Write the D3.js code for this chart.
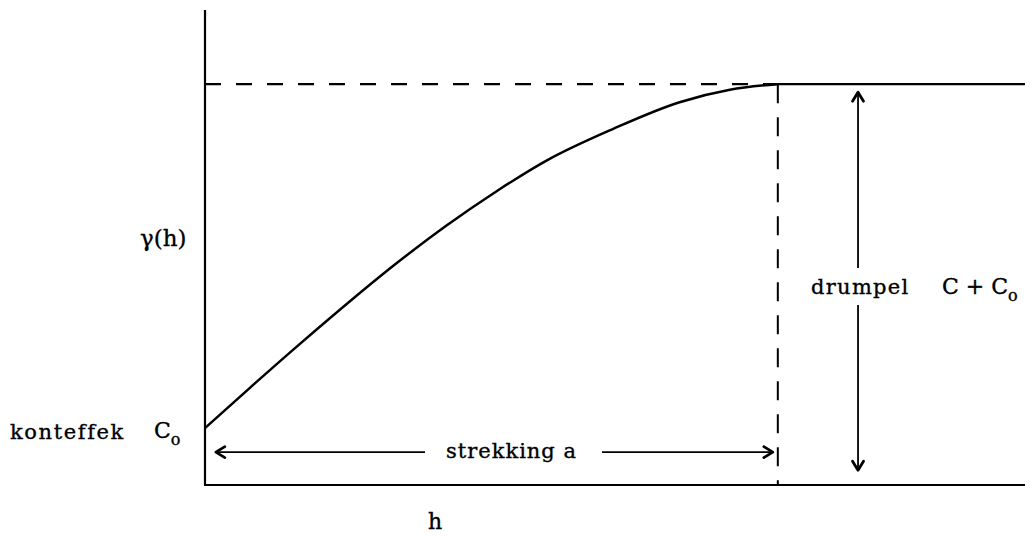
<!DOCTYPE html>
<html>
<head>
<meta charset="utf-8">
<script src="https://cdn.jsdelivr.net/npm/d3@7"></script>
<style>
  html, body { margin: 0; padding: 0; background: #fff; }
  svg { display: block; }
  text { font-family: "DejaVu Serif", "Liberation Serif", serif; fill: #000; stroke: #000; stroke-width: 0.35px; }
</style>
</head>
<body>
<script>
// Semivariogram: lag distance h (in units of the range a) vs. gamma(h) (in units of the sill)
const lagH = [0, 0.079, 0.166, 0.341, 0.423, 0.510, 0.598, 0.713, 0.830, 0.918, 1.0];
const gammaH = [0.142, 0.243, 0.352, 0.560, 0.648, 0.733, 0.810, 0.888, 0.955, 0.986, 1.0];
const rangeA = 1.0;     // strekking a
const sill = 1.0;       // drumpel C + Co
const hMax = 1.434;
const gammaMax = 1.185;

const W = 1033, H = 536;
const svg = d3.select("body").append("svg").attr("width", W).attr("height", H);

const x = d3.scaleLinear().domain([0, hMax]).range([205, 1025]);
const y = d3.scaleLinear().domain([0, gammaMax]).range([485, 10]);

const ink = "#000";

// axes (plain lines, no ticks)
svg.append("line").attr("x1", x(0)).attr("x2", x(0)).attr("y1", y(0)).attr("y2", y(gammaMax))
  .attr("stroke", ink).attr("stroke-width", 2.2);
svg.append("line").attr("x1", x(0) - 1).attr("x2", x(hMax)).attr("y1", y(0)).attr("y2", y(0))
  .attr("stroke", ink).attr("stroke-width", 2.2);

// sill: dashed up to the range, solid beyond
svg.append("line").attr("x1", x(0)).attr("x2", x(rangeA)).attr("y1", y(sill)).attr("y2", y(sill))
  .attr("stroke", ink).attr("stroke-width", 2.2).attr("stroke-dasharray", "16 15");
svg.append("line").attr("x1", x(rangeA)).attr("x2", x(hMax)).attr("y1", y(sill)).attr("y2", y(sill))
  .attr("stroke", ink).attr("stroke-width", 2.2);

// range marker
svg.append("line").attr("x1", x(rangeA) + 1).attr("x2", x(rangeA) + 1).attr("y1", y(sill)).attr("y2", y(0))
  .attr("stroke", ink).attr("stroke-width", 2).attr("stroke-dasharray", "19 14");

// variogram curve
const line = d3.line().x((d, i) => x(lagH[i])).y(d => y(d)).curve(d3.curveMonotoneX);
svg.append("path").attr("d", line(gammaH)).attr("fill", "none")
  .attr("stroke", ink).attr("stroke-width", 2.5);

// arrowheads
function head(px, py, angle) {
  svg.append("path")
    .attr("d", "M9,-5.5 L0,0 L9,5.5")
    .attr("transform", `translate(${px},${py}) rotate(${angle})`)
    .attr("fill", "none").attr("stroke", ink).attr("stroke-width", 2.8)
    .attr("stroke-linejoin", "round").attr("stroke-linecap", "round");
}

// horizontal arrow: strekking a
const arrowG = 0.082;
const hA0 = 0.019, hA1 = 0.993;
const yArr = y(arrowG);
svg.append("line").attr("x1", x(hA0)).attr("x2", 425).attr("y1", yArr).attr("y2", yArr)
  .attr("stroke", ink).attr("stroke-width", 1.8);
svg.append("line").attr("x1", 602).attr("x2", x(hA1)).attr("y1", yArr).attr("y2", yArr)
  .attr("stroke", ink).attr("stroke-width", 1.8);
head(x(hA0), yArr, 0);
head(x(hA1), yArr, 180);
svg.append("text").attr("x", 446).attr("y", yArr + 6).attr("font-size", 21)
  .attr("letter-spacing", "1px").text("strekking a");

// vertical arrow: drumpel
const hV = 1.142, gV0 = 0.037, gV1 = 0.98;
svg.append("line").attr("x1", x(hV)).attr("x2", x(hV)).attr("y1", y(gV1)).attr("y2", 268)
  .attr("stroke", ink).attr("stroke-width", 1.8);
svg.append("line").attr("x1", x(hV)).attr("x2", x(hV)).attr("y1", 305).attr("y2", y(gV0))
  .attr("stroke", ink).attr("stroke-width", 1.8);
head(x(hV), y(gV1), 90);
head(x(hV), y(gV0), -90);

svg.append("text").attr("x", 811).attr("y", 294).attr("font-size", 21)
  .attr("letter-spacing", "1.3px").text("drumpel");
const cc = svg.append("text").attr("x", 942).attr("y", 294).attr("font-size", 22);
cc.append("tspan").text("C + C");
cc.append("tspan").attr("font-size", 16).attr("dy", 7).text("o");

// nugget label
svg.append("text").attr("x", 10).attr("y", 439).attr("font-size", 21)
  .attr("letter-spacing", "1.6px").text("konteffek");
const c0 = svg.append("text").attr("x", 154).attr("y", 438).attr("font-size", 22);
c0.append("tspan").text("C");
c0.append("tspan").attr("font-size", 16).attr("dy", 7).text("o");

// axis titles
svg.append("text").attr("x", 140).attr("y", 246).attr("font-size", 23).text("γ(h)");
svg.append("text").attr("x", 428).attr("y", 529).attr("font-size", 22).text("h");
</script>
</body>
</html>
